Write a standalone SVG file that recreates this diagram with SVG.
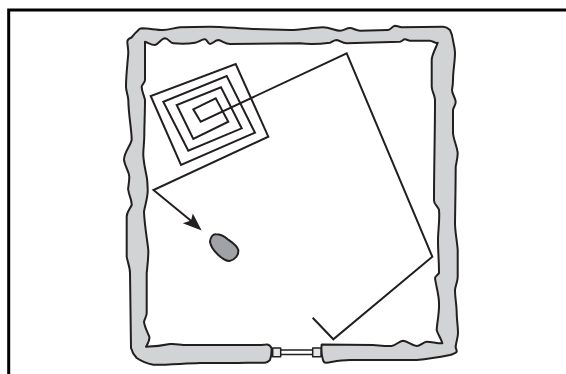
<svg xmlns="http://www.w3.org/2000/svg" width="566" height="374" viewBox="0 0 566 374">
<style>
.ln{fill:none;stroke:#231f20;stroke-width:2;stroke-linejoin:miter}
.bd{fill:#d1d3d4;stroke:#231f20;stroke-width:2;stroke-linejoin:round}
</style>
<rect width="566" height="374" fill="#fff"/>
<path id="frame" d="M8.700 374V10H566" fill="none" stroke="#000" stroke-width="3"/>
<g id="boundary-wire">
<path class="bd" d="M271.500 348C270 345 268.500 344 266 344.500L261.700 345L183.300 345C178 344.500 175 343.500 170 344C163 345.500 155 346.500 146 346.700C148 343 150 340 149.300 336.700C147 331 144.500 327 144 321.700C145 318 146.700 316 146.700 313L146.700 273C147.500 265 148.500 258 148.300 250C147 238 144.500 225 144 211.700C145 205 148 197 147.700 190C147.500 185 147.500 181 146.700 176.700C145 168 143 160 143.300 153C143.500 146 144.500 140 144.300 133C144.500 122 145 110 145 100C144 95 141.500 91 141.700 86.700C142 84 145 83 145 80L145 41.700C148 42.500 151 45 155 45C158.500 44.500 161 38.500 165 38.300C168.500 38.500 170 43 173.300 43.300C181 44 188 44 195 42.700C199 42 202 39 205 39.300C207 39.500 208 44 210 44C213 44 215 40 218.300 40C222 40.500 225 44 230 44L300 43.300C310 44.500 320 44 330 42.700C332 42 334 40 336.700 40C340 40.500 342 43.300 346.700 43.300L400 41.700C402 41.500 403 39.300 405 39.300C407 39.300 408 40.700 410 40.700L430 40.700C433 41 436 44 437.700 42.700C436 48 432 54 431.700 60L431.700 86.700C432 92 435 95 435 100C435 135 434 165 434 200C433.500 204 438 206 439 210C440 220 438 230 438 240C438 251 439 262 439 273C438 275 435 276 435 278C436 286 439 295 439 303C439.500 313 437 322 436.700 330C438 335 441.500 339 442.300 343.300C437 343.500 431 341.500 426.700 341.700C423 342 420.500 346 416.700 346C412 346 408 341 403 340.700C399 341 396 345.500 391.700 346C386 346.500 380 345.500 373 345L321.700 344.500C321 350 321.500 355 323 360C323.500 362 325 363 326.700 362.700C332 362 340 360 350 360L373 360L416.700 360C428 359 440 357 450 355C453 354 456 353.500 456.700 351.700C457 350 455.500 348.500 455.700 346.700C456 342 458 338 458 333C458 326 456.700 320 456.700 313C456.700 305 455 298 455 290C455.500 285 457.700 282 457.700 276.700L457.700 250C457 240 455 232 455 223L455.500 190L455.700 166.700C456.500 162 457.700 158 457.700 153C457 146 453.500 140 453 133L453 110C453.500 107 455.700 105 455.700 101.700C455.500 98 452 94 452 90C452.500 87 453 84 453 80C453 70 455 62 455 53C455 48 453.500 44 453 40C452.500 36 451.500 33 450 30C448 28 446 26.700 443.300 26.700L401.700 27.300C399 27 397.500 25.700 395 25.700C392 26 391 30 388 30L360 30.700C356 30.500 353 28 350 28C346 28 344 30.700 340 30.700C335 30.700 330 27.300 323 27.300C312 27.500 301 30 290 30L253 29C238 28.500 224 26.700 210 26.700C200 26.800 190 27 180 27.300C174 27.800 169 30 163 30C156 30 149 28.300 141.700 28.300C138 28.800 138.500 30.500 136.700 31.700C134 34 133 36 131.500 37.500C129 38.500 127.300 40 127.300 41.700C127.500 45 128.300 49 128.300 53C127.500 64 126 75 126 86.700C126 91 128 95 128.300 100C128.500 115 131.700 130 131.700 140C130 147 124 152 124 160C125 167 129 171 129.300 176.700C129.300 183 127.500 190 128.300 190C129 196 132 200 131.700 205C130 209 126.700 212 126.700 216.700L126.700 256.700C127.500 262 130 267 130 273L131 348C132 352 134 355 136.700 358C141 361 147 363.500 153.300 364.700C165 365 183 363.500 200 363C215 363 231 363 246.700 362.700L265 362.700C267.500 362.500 269 361 270 360C271.500 356 271.700 352 271.500 348Z"/>
<path class="bd" style="stroke-width:1.5;fill:#e6e7e8" d="M272.700 348H280.700V356.700H272.700ZM312.700 348H321V356.700H312.700Z"/>
</g>
<g id="connectors">
<path class="ln" style="stroke-width:1.7" d="M280.700 350H312.700M280.700 354.500H312.700"/>
<path class="ln" d="M312.700 317.700L333.300 339.300L432.300 256.700L346.700 53.300L200.700 121.700L193.300 109.300L215.700 98.300L228.300 121.700L193.300 139L176.700 105L221 87.300L241.700 128.300L188.300 150.700L163.300 101.700L226.700 76L255 132.700L181 165L150.700 96L235.700 64L268.300 136.700L153.500 190L192.500 222"/>
<path d="M201.700 230.500L192.800 213.500L191 220.500L182.800 223.300Z" fill="#231f20"/>
</g>
<g id="mower">
<path d="M210 241.700C210.500 237 213 234 216 234.300C220 234.300 224 236 228 239.500C233 243 237.500 246 238.300 250C238.800 255 235 260 229.500 261C225 261 221.500 258 218.300 255C214 251 210.500 247 210 241.700Z" fill="#a0a2a5" stroke="#231f20" stroke-width="2"/>
</g>
</svg>
